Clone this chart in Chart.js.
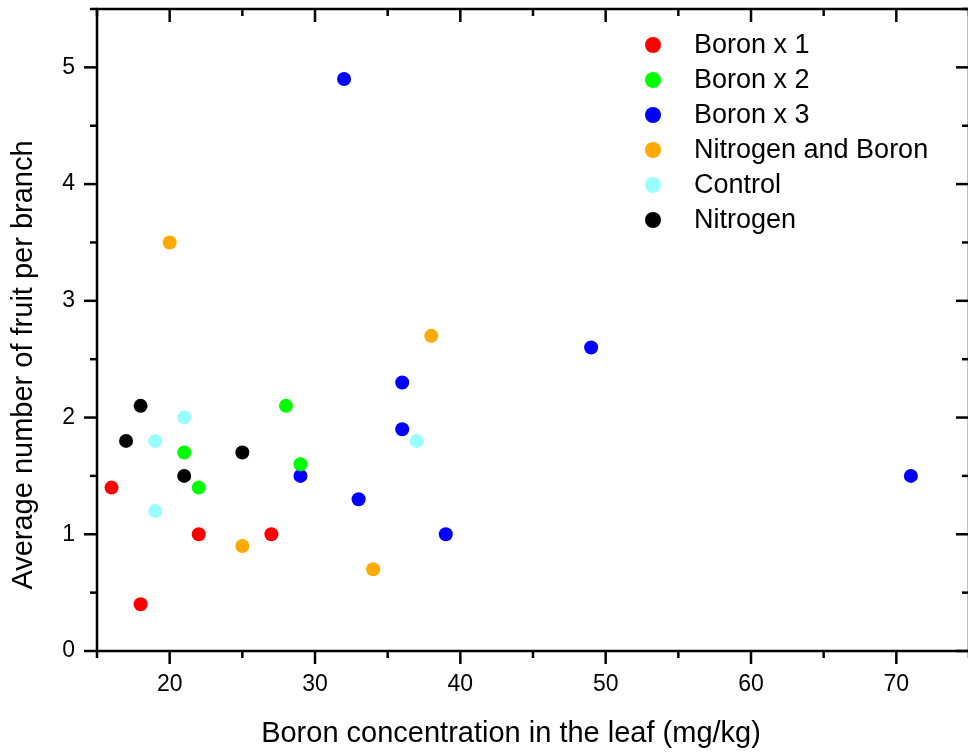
<!DOCTYPE html>
<html>
<head>
<meta charset="utf-8">
<script src="https://cdn.jsdelivr.net/npm/chart.js@4.4.1/dist/chart.umd.min.js"></script>
<style>
  html, body { margin: 0; padding: 0; background: #fff; overflow: hidden; }
  #wrap { width: 976px; height: 753px; }
</style>
</head>
<body>
<div id="wrap"><canvas id="chart" width="976" height="753"></canvas></div>
<script>
// series: boron in leaf (mg/kg) vs fruit per branch
const boronX1X = [16, 18, 22, 27];
const boronX1Y = [1.4, 0.4, 1.0, 1.0];
const boronX2X = [21, 22, 28, 29];
const boronX2Y = [1.7, 1.4, 2.1, 1.6];
const boronX3X = [32, 29, 33, 36, 36, 39, 49, 71];
const boronX3Y = [4.9, 1.5, 1.3, 2.3, 1.9, 1.0, 2.6, 1.5];
const nitroBoronX = [20, 38, 25, 34];
const nitroBoronY = [3.5, 2.7, 0.9, 0.7];
const controlX = [19, 21, 19, 37];
const controlY = [1.8, 2.0, 1.2, 1.8];
const nitrogenX = [18, 17, 21, 25];
const nitrogenY = [2.1, 1.8, 1.5, 1.7];

const seriesNames = ['Boron x 1', 'Boron x 2', 'Boron x 3', 'Nitrogen and Boron', 'Control', 'Nitrogen'];
const seriesColors = ['#ff0000', '#00ff00', '#0000ff', '#ffaa00', '#99ffff', '#000000'];

const xTicks = [20, 30, 40, 50, 60, 70];
const xMinor = [15, 25, 35, 45, 55, 65, 75];
const yTicks = [0, 1, 2, 3, 4, 5];
const yMinor = [0.5, 1.5, 2.5, 3.5, 4.5, 5.5];

const xTitle = 'Boron concentration in the leaf (mg/kg)';
const yTitle = 'Average number of fruit per branch';
const FONT = '"Liberation Sans", Arial, Helvetica, sans-serif';

const xs = [boronX1X, boronX2X, boronX3X, nitroBoronX, controlX, nitrogenX];
const ys = [boronX1Y, boronX2Y, boronX3Y, nitroBoronY, controlY, nitrogenY];

const datasets = seriesNames.map((name, i) => ({
    label: name,
    data: xs[i].map((x, j) => ({ x: x, y: ys[i][j] })),
    backgroundColor: seriesColors[i],
    borderColor: seriesColors[i],
    pointRadius: 7,
    pointHoverRadius: 7,
    borderWidth: 0
}));

// frame, tick marks, axis titles and legend
const framePlugin = {
    id: 'frame',
    afterDraw(chart) {
        const ctx = chart.ctx;
        const a = chart.chartArea;
        const xs = chart.scales.x, ys = chart.scales.y;
        ctx.save();
        ctx.strokeStyle = '#000';
        ctx.lineWidth = 2.5;
        ctx.lineCap = 'butt';
        ctx.strokeRect(a.left, a.top, a.right - a.left, a.bottom - a.top);

        const tick = (x1, y1, x2, y2) => {
            ctx.beginPath(); ctx.moveTo(x1, y1); ctx.lineTo(x2, y2); ctx.stroke();
        };
        xTicks.forEach(v => {
            const px = xs.getPixelForValue(v);
            tick(px, a.bottom, px, a.bottom + 13);
            tick(px, a.top, px, a.top + 13);
        });
        xMinor.forEach(v => {
            const px = xs.getPixelForValue(v);
            tick(px, a.bottom, px, a.bottom + 7);
            tick(px, a.top, px, a.top + 7);
        });
        yTicks.forEach(v => {
            const py = ys.getPixelForValue(v);
            tick(a.left, py, a.left - 13, py);
            tick(a.right, py, a.right - 13, py);
        });
        yMinor.forEach(v => {
            const py = ys.getPixelForValue(v);
            tick(a.left, py, a.left - 7, py);
            tick(a.right, py, a.right - 7, py);
        });

        // axis titles
        ctx.fillStyle = '#000';
        ctx.font = '29px ' + FONT;
        ctx.textAlign = 'center';
        ctx.textBaseline = 'alphabetic';
        ctx.fillText(xTitle, 511, 742);
        ctx.save();
        ctx.translate(32, 365);
        ctx.rotate(-Math.PI / 2);
        ctx.fillText(yTitle, 0, 0);
        ctx.restore();

        // legend
        ctx.font = '27px ' + FONT;
        ctx.textAlign = 'left';
        ctx.textBaseline = 'middle';
        chart.data.datasets.forEach((ds, i) => {
            const cy = 45 + i * 35;
            ctx.fillStyle = ds.backgroundColor;
            ctx.beginPath();
            ctx.arc(653, cy, 8, 0, Math.PI * 2);
            ctx.fill();
            ctx.fillStyle = '#000';
            ctx.fillText(ds.label, 694, cy + 1);
        });
        ctx.restore();
    }
};

new Chart(document.getElementById('chart'), {
    type: 'scatter',
    data: { datasets: datasets },
    options: {
        responsive: false,
        animation: false,
        devicePixelRatio: 1,
        layout: { padding: { top: 9, right: 2, left: 0, bottom: 0 } },
        plugins: {
            legend: { display: false },
            tooltip: { enabled: false }
        },
        scales: {
            x: {
                type: 'linear',
                min: 15,
                max: 75,
                grid: { display: false, drawTicks: false },
                border: { display: false },
                afterBuildTicks: s => { s.ticks = xTicks.map(v => ({ value: v })); },
                afterFit: s => { s.height = 102; s.paddingLeft = 0; s.paddingRight = 0; },
                ticks: {
                    color: '#000',
                    padding: 20,
                    maxRotation: 0,
                    font: { family: FONT, size: 23 },
                    callback: v => String(v)
                }
            },
            y: {
                type: 'linear',
                min: 0,
                max: 5.5,
                grid: { display: false, drawTicks: false },
                border: { display: false },
                afterBuildTicks: s => { s.ticks = yTicks.map(v => ({ value: v })); },
                afterFit: s => { s.width = 97; s.paddingTop = 0; s.paddingBottom = 0; },
                ticks: {
                    color: '#000',
                    padding: 22,
                    font: { family: FONT, size: 23 },
                    callback: v => String(v)
                }
            }
        }
    },
    plugins: [framePlugin]
});
</script>
</body>
</html>
